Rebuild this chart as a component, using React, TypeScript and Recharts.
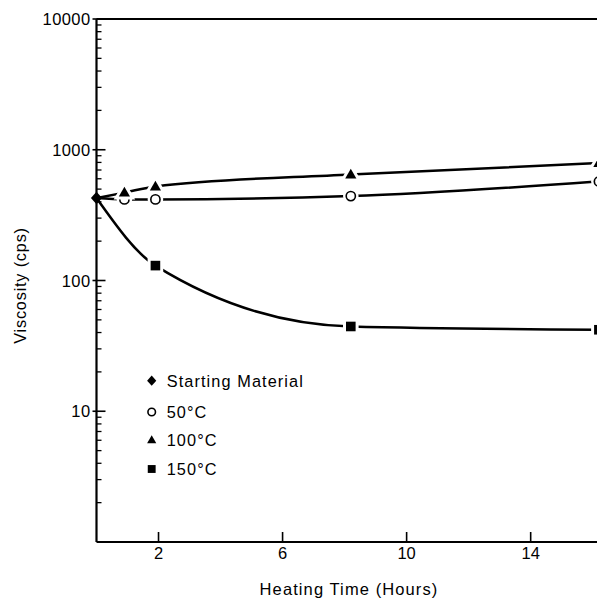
import React from 'react';
import { ComposedChart, Line, XAxis, YAxis } from 'recharts';

// ---- data ----
const startHours = [0];
const startVisc = [427];

const hours50 = [0, 0.9, 1.9, 8.2, 16.2];
const visc50 = [427, 417, 417, 442, 572];

const hours100 = [0, 0.9, 1.9, 8.2, 16.2];
const visc100 = [427, 470, 524, 647, 791];

const hours150 = [0, 1.9, 8.2, 16.2];
const visc150 = [427, 130, 44.5, 42];

const xTicks = [2, 6, 10, 14];
const majorTicks = [10, 100, 1000, 10000];
const majorLabels = ['10', '100', '1000', '10000'];
const minorMultipliers = [2, 3, 4, 5, 6, 7, 8, 9];
const decades = [1, 10, 100, 1000];

const legendItems = ['Starting Material', '50°C', '100°C', '150°C'];

const toRows = (hs: number[], vs: number[]) => hs.map((h, i) => ({ h, v: vs[i] }));
const dataStart = toRows(startHours, startVisc);
const data50 = toRows(hours50, visc50);
const data100 = toRows(hours100, visc100);
const data150 = toRows(hours150, visc150);

const minorTicks: number[] = [];
decades.forEach((d) => minorMultipliers.forEach((m) => minorTicks.push(d * m)));
const yTicks = [...minorTicks, ...majorTicks].sort((a, b) => a - b);

const FONT = '"Liberation Sans", Arial, Helvetica, sans-serif';

type Kind = 'diamond' | 'circle' | 'triangle' | 'square';

function Marker({ kind, cx, cy, scale = 1, halo = false }: { kind: Kind; cx: number; cy: number; scale?: number; halo?: boolean }) {
  const s = scale;
  const haloProps = { fill: '#fff', stroke: '#fff', strokeWidth: 6 };
  if (kind === 'diamond') {
    const pts = `${cx},${cy - 6.2 * s} ${cx + 5.6 * s},${cy} ${cx},${cy + 6.2 * s} ${cx - 5.6 * s},${cy}`;
    return <polygon points={pts} fill="#000" />;
  }
  if (kind === 'circle') {
    return (
      <g>
        {halo && <circle cx={cx} cy={cy} r={4.8 * s} {...haloProps} />}
        <circle cx={cx} cy={cy} r={4.6 * s} fill="#fff" stroke="#000" strokeWidth={1.6} />
      </g>
    );
  }
  if (kind === 'triangle') {
    const pts = `${cx},${cy - 5.8 * s} ${cx + 5.6 * s},${cy + 4 * s} ${cx - 5.6 * s},${cy + 4 * s}`;
    return (
      <g>
        {halo && <polygon points={pts} {...haloProps} />}
        <polygon points={pts} fill="#000" />
      </g>
    );
  }
  const h = 4.8 * s;
  return (
    <g>
      {halo && <rect x={cx - h} y={cy - h} width={2 * h} height={2 * h} {...haloProps} />}
      <rect x={cx - h} y={cy - h} width={2 * h} height={2 * h} fill="#000" />
    </g>
  );
}

const makeDot = (kind: Kind, skipFirst: boolean) => (props: any) => {
  const { cx, cy, index } = props;
  if ((skipFirst && index === 0) || cx == null || cy == null) return <g key={`n-${kind}-${index}`} />;
  return (
    <g key={`d-${kind}-${index}`}>
      <Marker kind={kind} cx={cx} cy={cy} halo={kind !== 'diamond'} />
    </g>
  );
};

const LeftTick = (props: any) => {
  const { x, y, payload } = props;
  const v = payload.value;
  const idx = majorTicks.indexOf(v);
  if (idx >= 0) {
    return (
      <g>
        <line x1={x - 4} x2={x + 9} y1={y} y2={y} stroke="#000" strokeWidth={1.6} />
        <text x={x - 6} y={y + 6} textAnchor="end" fontFamily={FONT} fontSize={16.5} letterSpacing={0.4} fill="#000">
          {majorLabels[idx]}
        </text>
      </g>
    );
  }
  return <line x1={x} x2={x + 5} y1={y} y2={y} stroke="#000" strokeWidth={1.3} />;
};

const RightTick = (props: any) => {
  const { x, y } = props;
  return <line x1={x - 9} x2={x} y1={y} y2={y} stroke="#000" strokeWidth={1.6} />;
};

const BottomTick = (props: any) => {
  const { x, y, payload } = props;
  return (
    <g>
      <line x1={x} x2={x} y1={y - 10} y2={y} stroke="#000" strokeWidth={1.6} />
      <text x={x} y={y + 17} textAnchor="middle" fontFamily={FONT} fontSize={16.5} fill="#000">
        {payload.value}
      </text>
    </g>
  );
};

const TopTick = (props: any) => {
  const { x, y } = props;
  return <line x1={x} x2={x} y1={y} y2={y + 11} stroke="#000" strokeWidth={1.6} />;
};

const legendRows = [380.7, 412, 440, 469];
const legendKinds: Kind[] = ['diamond', 'circle', 'triangle', 'square'];

export default function App() {
  return (
    <div style={{ position: 'fixed', left: 0, top: 0, width: 597, height: 599, overflow: 'hidden', background: '#fff' }}>
      <ComposedChart
        width={612}
        height={599}
        margin={{ top: 9, right: 0, bottom: 27, left: 36.5 }}
        style={{ position: 'absolute', left: 0, top: 0 }}
      >
        <XAxis
          xAxisId="bottom"
          dataKey="h"
          type="number"
          domain={[0, 16.3]}
          ticks={xTicks}
          interval={0}
          height={30}
          tickSize={0}
          tickMargin={0}
          tickLine={false}
          tick={<BottomTick />}
          axisLine={{ stroke: '#000', strokeWidth: 2.2 }}
        />
        <XAxis
          xAxisId="top"
          orientation="top"
          dataKey="h"
          type="number"
          domain={[0, 16.3]}
          ticks={xTicks}
          interval={0}
          height={10}
          tickSize={0}
          tickMargin={0}
          tickLine={false}
          tick={<TopTick />}
          axisLine={{ stroke: '#000', strokeWidth: 2.2 }}
        />
        <YAxis
          yAxisId="left"
          type="number"
          scale="log"
          domain={[1, 10000]}
          ticks={yTicks}
          interval={0}
          width={60}
          tickSize={0}
          tickMargin={0}
          tickLine={false}
          tick={<LeftTick />}
          axisLine={{ stroke: '#000', strokeWidth: 2.2 }}
        />
        <YAxis
          yAxisId="right"
          orientation="right"
          type="number"
          scale="log"
          domain={[1, 10000]}
          ticks={majorTicks.slice(0, 3)}
          interval={0}
          width={10}
          tickSize={0}
          tickMargin={0}
          tickLine={false}
          tick={<RightTick />}
          axisLine={{ stroke: '#000', strokeWidth: 2.2 }}
        />
        <Line
          xAxisId="bottom"
          yAxisId="left"
          data={data150}
          dataKey="v"
          type="monotone"
          stroke="#000"
          strokeWidth={2.5}
          dot={makeDot('square', true)}
          activeDot={false}
          isAnimationActive={false}
        />
        <Line
          xAxisId="bottom"
          yAxisId="left"
          data={data50}
          dataKey="v"
          type="monotone"
          stroke="#000"
          strokeWidth={2.5}
          dot={makeDot('circle', true)}
          activeDot={false}
          isAnimationActive={false}
        />
        <Line
          xAxisId="bottom"
          yAxisId="left"
          data={data100}
          dataKey="v"
          type="monotone"
          stroke="#000"
          strokeWidth={2.5}
          dot={makeDot('triangle', true)}
          activeDot={false}
          isAnimationActive={false}
        />
        <Line
          xAxisId="bottom"
          yAxisId="left"
          data={dataStart}
          dataKey="v"
          type="monotone"
          stroke="#000"
          strokeWidth={2.5}
          dot={makeDot('diamond', false)}
          activeDot={false}
          isAnimationActive={false}
        />
      </ComposedChart>
      <svg width={597} height={599} style={{ position: 'absolute', left: 0, top: 0, pointerEvents: 'none' }}>
        {legendItems.map((label, i) => (
          <g key={label}>
            <Marker kind={legendKinds[i]} cx={151.7} cy={legendRows[i]} scale={0.82} />
            <text x={166.7} y={legendRows[i] + 6} fontFamily={FONT} fontSize={16.3} letterSpacing={1.1} fill="#000">
              {label}
            </text>
          </g>
        ))}
        <text
          transform="translate(25.5,285.5) rotate(-90)"
          textAnchor="middle"
          fontFamily={FONT}
          fontSize={16.3}
          letterSpacing={0.8}
          fill="#000"
        >
          Viscosity (cps)
        </text>
        <text x={349} y={595} textAnchor="middle" fontFamily={FONT} fontSize={16.5} letterSpacing={1.1} fill="#000">
          Heating Time (Hours)
        </text>
      </svg>
    </div>
  );
}
